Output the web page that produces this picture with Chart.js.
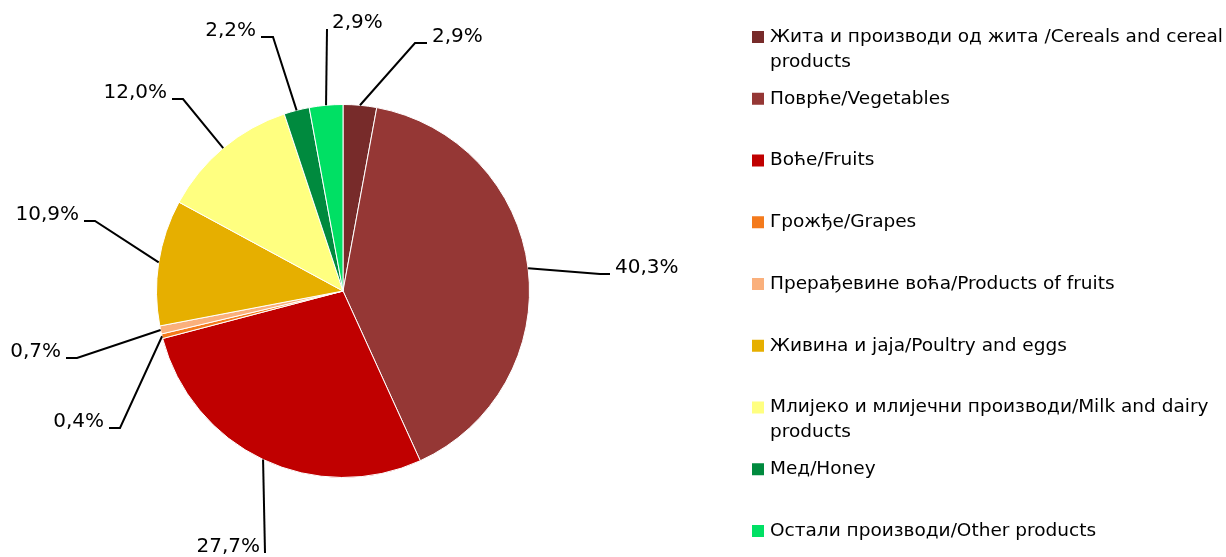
<!DOCTYPE html>
<html>
<head>
<meta charset="utf-8">
<script src="https://cdn.jsdelivr.net/npm/chart.js@4"></script>
<style>
html,body{margin:0;padding:0;background:#fff;}
#wrap{position:relative;width:1226px;height:557px;}
</style>
</head>
<body>
<div id="wrap"><canvas id="c" width="1226" height="557"></canvas></div>
<script>
const categories = [
  "Жита и производи од жита /Cereals and cereal products",
  "Поврће/Vegetables",
  "Воће/Fruits",
  "Грожђе/Grapes",
  "Прерађевине воћа/Products of fruits",
  "Живина и jaja/Poultry and eggs",
  "Млијеко и млијечни производи/Milk and dairy products",
  "Мед/Honey",
  "Остали производи/Other products"
];
const shares = [2.9, 40.3, 27.7, 0.4, 0.7, 10.9, 12.0, 2.2, 2.9];
const colors = ["#772B2A", "#953735", "#C00000", "#F47A1C", "#FAB07C", "#E6AF00", "#FFFF80", "#008A3E", "#00E064"];

// label layout: elbow offset from pie centre, horizontal tail, text side
const labelLayout = [
  [72, -248, 12, 1],
  [257, -17, 10, 1],
  [-78, 262, 0, -1],
  [-223, 137, -11, -1],
  [-266, 67, -11, -1],
  [-248, -70, -11, -1],
  [-160, -192, -11, -1],
  [-70, -254, -12, -1],
  [-16, -262, 0, 1]
];

const FONT = "'DejaVu Sans', sans-serif";
const FS = 18.5;
const LFS = 20;

function fmt(v){ return v.toFixed(1).replace('.', ',') + '%'; }

const leaderPlugin = {
  id: 'leaders',
  afterDatasetsDraw(chart){
    const ctx = chart.ctx;
    const meta = chart.getDatasetMeta(0);
    ctx.save();
    ctx.strokeStyle = '#000';
    ctx.lineWidth = 2;
    ctx.fillStyle = '#000';
    ctx.font = LFS + 'px ' + FONT;
    ctx.textBaseline = 'middle';
    meta.data.forEach((arc, i) => {
      const p = arc.getProps(['x','y','startAngle','endAngle','outerRadius'], true);
      const mid = (p.startAngle + p.endAngle) / 2;
      const sx = p.x + Math.cos(mid) * p.outerRadius;
      const sy = p.y + Math.sin(mid) * p.outerRadius;
      const L = labelLayout[i];
      const ex = p.x + L[0], ey = p.y + L[1];
      ctx.beginPath();
      ctx.moveTo(sx, sy);
      ctx.lineTo(ex, ey);
      ctx.lineTo(ex + L[2], ey);
      ctx.stroke();
      ctx.textAlign = L[3] > 0 ? 'left' : 'right';
      ctx.fillText(fmt(shares[i]), ex + L[2] + L[3] * 5, ey - 6);
    });
    ctx.restore();
  }
};

const legendPlugin = {
  id: 'sideLegend',
  afterDraw(chart){
    const ctx = chart.ctx;
    ctx.save();
    ctx.font = FS + 'px ' + FONT;
    ctx.textBaseline = 'middle';
    ctx.textAlign = 'left';
    const x0 = 752, tx = 770, maxW = 456, lineH = 25, y0 = 37, step = 61.75;
    chart.data.labels.forEach((lab, i) => {
      const y = y0 + i * step;
      ctx.fillStyle = chart.data.datasets[0].backgroundColor[i];
      ctx.fillRect(x0, y - 6, 12, 12);
      ctx.fillStyle = '#000';
      const words = lab.split(' ');
      let line = '', ly = y;
      words.forEach(w => {
        const test = line ? line + ' ' + w : w;
        if (ctx.measureText(test).width > maxW && line) {
          ctx.fillText(line, tx, ly);
          line = w; ly += lineH;
        } else line = test;
      });
      ctx.fillText(line, tx, ly);
    });
    ctx.restore();
  }
};

new Chart(document.getElementById('c'), {
  type: 'pie',
  data: {
    labels: categories,
    datasets: [{
      data: shares,
      backgroundColor: colors,
      borderColor: '#ffffff',
      borderWidth: 1
    }]
  },
  options: {
    responsive: false,
    animation: false,
    layout: { padding: { left: 156, right: 696, top: 104, bottom: 79 } },
    plugins: { legend: { display: false }, tooltip: { enabled: false } }
  },
  plugins: [leaderPlugin, legendPlugin]
});
</script>
</body>
</html>
